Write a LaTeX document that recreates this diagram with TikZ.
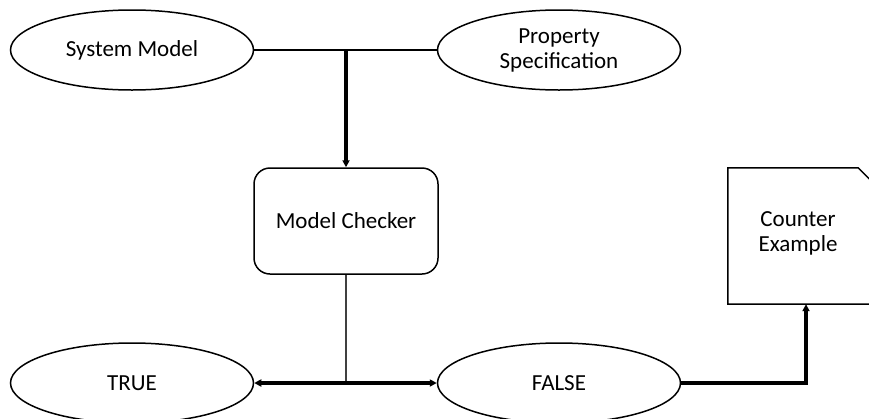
\documentclass[tikz,border=0pt]{standalone}
\usepackage{fontspec}
\setmainfont{Carlito}
\usetikzlibrary{arrows.meta,shapes.geometric}
\begin{document}
\begin{tikzpicture}[x=1pt,y=-1pt,
  every node/.style={font=\fontsize{23}{25}\selectfont, align=center},
  oval/.style={draw, ellipse, line width=1.5pt, minimum width=243pt, minimum height=80pt, inner sep=0pt},
  checker/.style={draw, rounded corners=16pt, line width=1.5pt, minimum width=184pt, minimum height=106pt, inner sep=0pt},
  thin link/.style={line width=1.5pt},
  thick link/.style={line width=3.2pt},
  tip/.style={-{Triangle[length=7pt,width=7pt]}}]
\useasboundingbox (0,0) rectangle (869,418);
\clip (0,0) rectangle (869,418);

% inputs
\node[oval] (sm) at (132,50) {System Model};
\node[oval] (ps) at (559,50) {Property\\Specification};

% checker
\node[checker] (mc) at (346,221) {Model Checker};

% verdicts
\node[oval] (t) at (132,383) {TRUE};
\node[oval] (f) at (559,383) {FALSE};

% counter example document with folded corner
\node[minimum width=146pt, minimum height=136pt, inner sep=0pt] (ce) at (801,236) {};
\node at (798,233) {Counter\\Example};
\draw[line width=1.5pt] (ce.south west) -- (ce.north west) -- ([xshift=-16pt]ce.north east)
  -- ([yshift=-16pt]ce.north east) -- (ce.south east) -- cycle;

% connectors
\draw[thin link] (sm.east) -- (ps.west);
\coordinate (join) at (mc.north |- sm.east);
\draw[thick link, tip] (join) -- (mc.north);
\coordinate (split) at (mc.south |- t.east);
\draw[line width=1.5pt, black!75] (mc.south) -- (split);
\draw[thick link, {Triangle[length=7pt,width=7pt]}-{Triangle[length=7pt,width=7pt]}] (t.east) -- (f.west);
\coordinate (ceIn) at ([xshift=5pt]ce.south);
\draw[thick link, tip] (f.east) -| (ceIn);
\end{tikzpicture}
\end{document}
